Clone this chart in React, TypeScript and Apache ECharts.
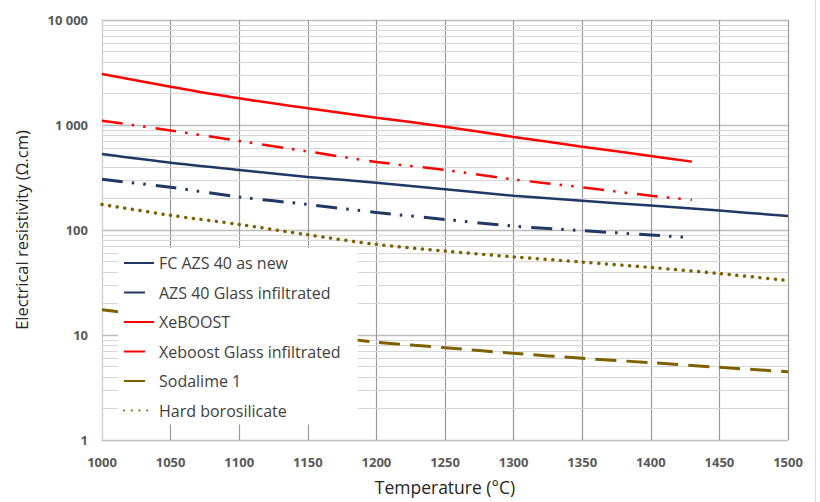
import React, { useEffect, useRef } from "react";
import * as echarts from "echarts";

const temps = [1000, 1050, 1100, 1150, 1200, 1250, 1300, 1350, 1400, 1450, 1500];
const tempsShort = [1000, 1050, 1100, 1150, 1200, 1250, 1300, 1350, 1400, 1430];

const fcAzsNew = [529, 437, 373, 320, 282, 244, 212, 190, 171, 153, 136];
const azsGlass = [304, 255, 206, 175, 147, 126, 109, 98.5, 89.6, 84.5];
const xeboost = [3060, 2317, 1795, 1442, 1175, 964, 770, 622, 507, 448];
const xeboostGlass = [1100, 887, 704, 560, 445, 373, 303, 255, 212, 194];
const sodalime = [17.4, 14.5, 12.2, 10.2, 8.55, 7.57, 6.69, 6.0, 5.45, 4.92, 4.47];
const hardBoro = [175, 138, 113, 90, 73, 63, 55.5, 49.5, 44, 38.5, 33];

const decades = [1, 10, 100, 1000];
const minorSteps = [2, 3, 4, 5, 6, 7, 8, 9];

const NAVY = "#1f3864";
const RED = "#ff0000";
const GOLD = "#7f6000";
const FONT = "'Open Sans', 'Liberation Sans', sans-serif";

const pairs = (xs: number[], ys: number[]) => xs.map((x, i) => [x, ys[i]]);
const fmt = (v: number) => String(v).replace(/\B(?=(\d{3})+(?!\d))/g, " ");

export default function App() {
  const ref = useRef<HTMLDivElement>(null);
  useEffect(() => {
    if (!ref.current) return;
    const chart = echarts.init(ref.current, null, { renderer: "svg" });
    const minorLines: any[] = [];
    decades.forEach((d) => minorSteps.forEach((s) => minorLines.push({ yAxis: d * s })));
    const dashDotDot = [21, 9, 2.5, 9, 2.5, 10];
    chart.setOption({
      animation: false,
      backgroundColor: "#ffffff",
      grid: {
        left: 102,
        right: 32,
        top: 20,
        bottom: 62,
        containLabel: false,
        outerBoundsMode: "none",
      },
      legend: {
        orient: "vertical",
        left: 118,
        top: 248,
        backgroundColor: "#ffffff",
        padding: [7, 17, 6, 5],
        itemWidth: 30,
        itemHeight: 14,
        itemGap: 13.5,
        itemStyle: { opacity: 0 },
        textStyle: { fontFamily: FONT, fontSize: 16, lineHeight: 14, color: "#404040" },
        data: [
          "FC AZS 40 as new",
          "AZS 40 Glass infiltrated",
          "XeBOOST",
          "Xeboost Glass infiltrated",
          "Sodalime 1",
          "Hard borosilicate",
        ],
      },
      xAxis: {
        type: "value",
        min: 1000,
        max: 1500,
        interval: 50,
        name: "Temperature (°C)",
        nameLocation: "middle",
        nameGap: 38,
        nameTextStyle: { fontFamily: FONT, fontSize: 17.5, color: "#262626" },
        axisLine: { show: true, lineStyle: { color: "#bfbfbf", width: 1 } },
        axisTick: { show: false },
        axisLabel: {
          fontFamily: FONT,
          fontSize: 13,
          fontWeight: "bold",
          color: "#595959",
          margin: 15,
          formatter: (v: number) => String(v),
        },
        splitLine: { show: true, lineStyle: { color: "#9a9a9a", width: 1.2 } },
      },
      yAxis: {
        type: "log",
        logBase: 10,
        min: 1,
        max: 10000,
        name: "Electrical resistivity (Ω.cm)",
        nameLocation: "middle",
        nameGap: 72,
        nameTextStyle: { fontFamily: FONT, fontSize: 16.5, color: "#262626" },
        axisLine: { show: true, lineStyle: { color: "#d0d0d0", width: 1 } },
        axisTick: { show: false },
        axisLabel: {
          fontFamily: FONT,
          fontSize: 13,
          fontWeight: "bold",
          color: "#595959",
          margin: 14,
          formatter: (v: number) => fmt(v),
        },
        splitLine: { show: true, lineStyle: { color: "#bdbdbd", width: 1.3 } },
      },
      graphic: [
        {
          type: "line",
          shape: { x1: 815.5, y1: 0, x2: 815.5, y2: 502 },
          style: { stroke: "#d9d9d9", lineWidth: 1 },
          silent: true,
        },
      ],
      series: [
        {
          name: "FC AZS 40 as new",
          type: "line",
          z: 3,
          showSymbol: false,
          symbol: "none",
          smooth: 0.3,
          color: NAVY,
          lineStyle: { color: NAVY, width: 2.5 },
          data: pairs(temps, fcAzsNew),
          markLine: {
            silent: true,
            z: 1,
            symbol: ["none", "none"],
            label: { show: false },
            lineStyle: { color: "#d6d6d6", width: 1.2, type: "solid" },
            emphasis: { disabled: true },
            data: minorLines,
          },
        },
        {
          name: "AZS 40 Glass infiltrated",
          type: "line",
          z: 3,
          symbol: "none",
          smooth: 0.3,
          color: NAVY,
          lineStyle: { color: NAVY, width: 3, type: dashDotDot },
          data: pairs(tempsShort, azsGlass),
        },
        {
          name: "XeBOOST",
          type: "line",
          z: 3,
          symbol: "none",
          smooth: 0.3,
          color: RED,
          lineStyle: { color: RED, width: 2.5 },
          data: pairs(tempsShort, xeboost),
        },
        {
          name: "Xeboost Glass infiltrated",
          type: "line",
          z: 3,
          symbol: "none",
          smooth: 0.3,
          color: RED,
          lineStyle: { color: RED, width: 2.5, type: dashDotDot },
          data: pairs(tempsShort, xeboostGlass),
        },
        {
          name: "Sodalime 1",
          type: "line",
          z: 3,
          symbol: "none",
          smooth: 0.3,
          color: GOLD,
          lineStyle: { color: GOLD, width: 3, type: [21, 10] },
          data: pairs(temps, sodalime),
        },
        {
          name: "Hard borosilicate",
          type: "line",
          z: 3,
          symbol: "none",
          smooth: 0.3,
          color: GOLD,
          lineStyle: { color: GOLD, width: 3.5, type: [0.1, 7.6], cap: "round" },
          data: pairs(temps, hardBoro),
        },
      ],
    });
    return () => chart.dispose();
  }, []);
  return (
    <div
      ref={ref}
      style={{ position: "fixed", left: 0, top: 0, width: 820, height: 502, background: "#fff" }}
    />
  );
}
